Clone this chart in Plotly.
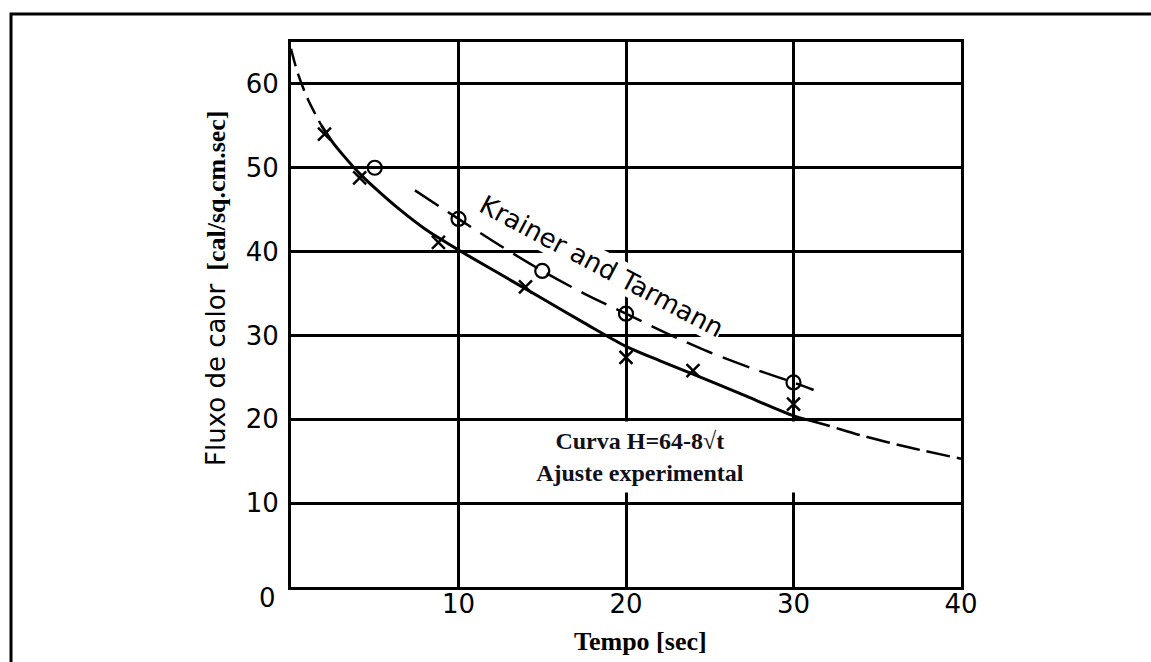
import plotly.graph_objects as go

# ---- data ----
curve_t = [0, 0.4, 1.0, 1.8, 2.5, 3.2, 4.1, 5, 6.5, 8, 10, 12.5, 15, 17.5, 20, 22, 24, 27, 30, 30.8, 32, 34, 37, 40]
curve_h = [64.2, 61.3, 58.2, 55.1, 53.0, 51.3, 49.3, 47.6, 45.0, 42.7, 40.2, 37.3, 34.4, 31.5, 28.7, 27.0, 25.4, 22.9, 20.4, 19.95, 19.3, 18.1, 16.6, 15.3]
solid_start, solid_end = 3, 19  # indices where the fitted curve is drawn solid

kt_line_t = [7.4, 10, 12.5, 15, 17.5, 20, 22.5, 25, 27.5, 30, 31.2]
kt_line_h = [47.3, 43.9, 40.7, 37.7, 35.0, 32.6, 30.2, 28.0, 26.1, 24.4, 23.5]

circle_t = [5, 10, 15, 20, 30]
circle_h = [50.0, 43.9, 37.7, 32.6, 24.4]

cross_t = [2.0, 4.1, 8.8, 14.0, 20.0, 24.0, 30.0]
cross_h = [54.0, 48.8, 41.1, 35.8, 27.4, 25.8, 21.8]

x_ticks = [10, 20, 30, 40]
y_ticks = [10, 20, 30, 40, 50, 60]

fig = go.Figure()

spl = dict(shape="spline", smoothing=0.8)

# fitted curve: dashed head, solid body, dashed tail
fig.add_trace(go.Scatter(x=curve_t[:solid_start + 1], y=curve_h[:solid_start + 1], mode="lines",
                         line=dict(color="black", width=2.5, dash="18px,8px", **spl), hoverinfo="skip"))
fig.add_trace(go.Scatter(x=curve_t[solid_start:solid_end + 1], y=curve_h[solid_start:solid_end + 1], mode="lines",
                         line=dict(color="black", width=3, **spl), hoverinfo="skip"))
fig.add_trace(go.Scatter(x=curve_t[solid_end:], y=curve_h[solid_end:], mode="lines",
                         line=dict(color="black", width=2.5, dash="24px,7px", **spl), hoverinfo="skip"))

# Krainer and Tarmann dashed line
fig.add_trace(go.Scatter(x=kt_line_t, y=kt_line_h, mode="lines",
                         line=dict(color="black", width=2.5, dash="28px,11px", **spl), hoverinfo="skip"))

# markers
fig.add_trace(go.Scatter(x=circle_t, y=circle_h, mode="markers",
                         marker=dict(symbol="circle-open", size=14, color="black", line=dict(width=2.2, color="black")),
                         hoverinfo="skip"))
fig.add_trace(go.Scatter(x=cross_t, y=cross_h, mode="markers",
                         marker=dict(symbol="x-thin", size=13, color="black", line=dict(width=2.5, color="black")),
                         hoverinfo="skip"))

tick_font = dict(family="DejaVu Sans", size=26, color="black")

fig.update_xaxes(range=[0, 40], tickvals=x_ticks, ticktext=[str(v) for v in x_ticks],
                 showgrid=True, gridcolor="black", gridwidth=2.5,
                 showline=True, linecolor="black", linewidth=3, mirror=True,
                 zeroline=False, ticks="", tickfont=tick_font, ticklabelstandoff=-8)
fig.update_yaxes(range=[0, 65], tickvals=y_ticks, ticktext=[str(v) for v in y_ticks],
                 showgrid=True, gridcolor="black", gridwidth=2.5,
                 showline=True, linecolor="black", linewidth=3, mirror=True,
                 zeroline=False, ticks="", tickfont=tick_font, ticklabelstandoff=4)

L, R, T, B = 291, 190, 42, 75
W, H = 1151, 662
pw, ph = W - L - R, H - T - B


def px(xp):
    return (xp - L) / pw


def py(yp):
    return (H - B - yp) / ph


C = dict(xanchor="center", yanchor="middle", showarrow=False)

annotations = [
    # shared origin label
    dict(x=0, y=0, xref="x", yref="y", text="0", font=tick_font, xshift=-24, yshift=-11, **C),
    # y title
    dict(x=px(216), y=py(288), xref="paper", yref="paper", textangle=-90,
         text='<span style="font-family:DejaVu Sans;font-size:26px">Fluxo de calor</span>\u00a0\u00a0<b>[cal/sq.cm.sec]</b>',
         font=dict(family="Liberation Serif", size=26, color="black"), **C),
    # x title
    dict(x=px(640), y=py(641), xref="paper", yref="paper",
         text="<b>Tempo [sec]</b>", font=dict(family="Liberation Serif", size=26, color="black"), **C),
    # curve note
    dict(x=px(640), y=py(457), xref="paper", yref="paper",
         text="<b>Curva H=64-8\u221at</b><br><b>Ajuste experimental</b>",
         font=dict(family="Liberation Serif", size=24, color="#10101a"),
         bgcolor="white", width=310, height=70, borderpad=0, **C),
    # series label along dashed line
    dict(x=px(601), y=py(266), xref="paper", yref="paper", textangle=28,
         text="Krainer and Tarmann", font=dict(family="DejaVu Sans", size=26, color="black"),
         bgcolor="white", borderpad=0, **C),
]

fig.update_layout(
    width=W, height=H,
    margin=dict(l=L, r=R, t=T, b=B),
    paper_bgcolor="white", plot_bgcolor="white",
    showlegend=False, hovermode=False,
    annotations=annotations,
    shapes=[dict(type="rect", xref="paper", yref="paper",
                 x0=px(11), x1=px(1200), y0=py(720), y1=py(14),
                 line=dict(color="black", width=3), fillcolor="rgba(0,0,0,0)", layer="above")],
)

fig.write_html("out.html")
